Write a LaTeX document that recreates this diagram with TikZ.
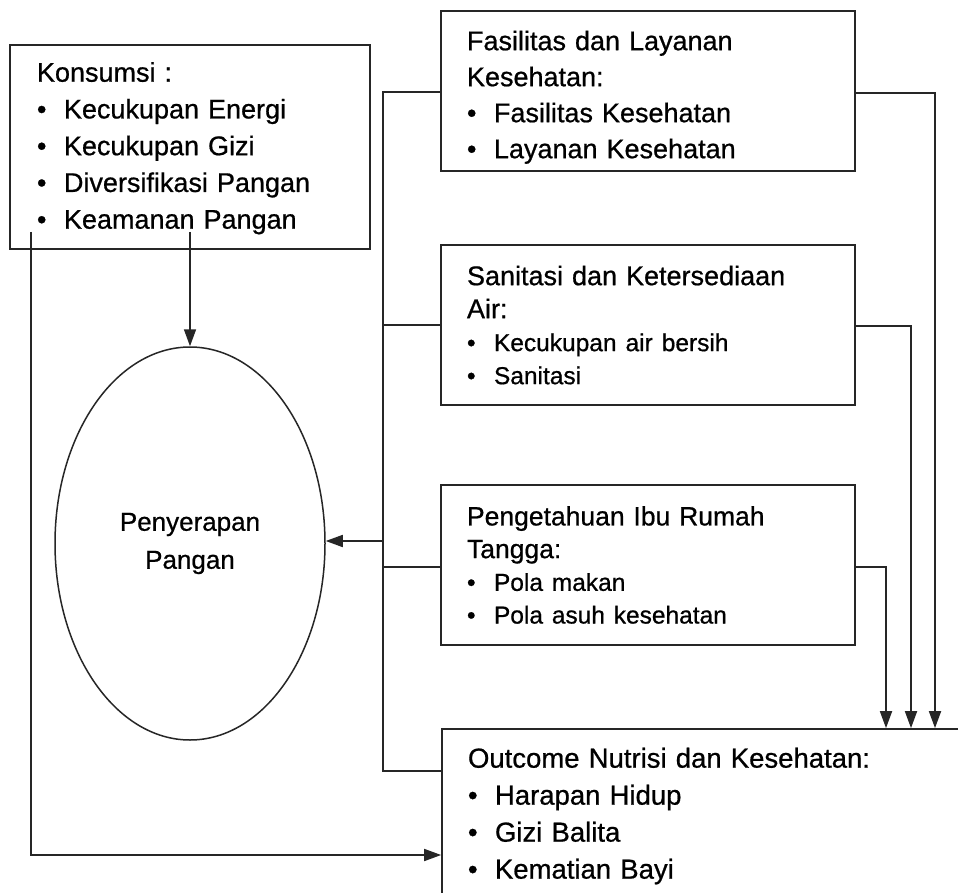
\documentclass[tikz,border=0pt]{standalone}
\usepackage{fontspec}
\setmainfont[FakeBold=0.7]{Liberation Sans}
\usetikzlibrary{arrows.meta,shapes.geometric}
% bulleted entry inside a box
\newcommand{\itm}[1]{\makebox[27pt][l]{\textbullet}#1}

\begin{document}
\begin{tikzpicture}[x=1pt,y=-1pt,
  wire/.style={line width=1.7pt, draw=black!85},
  arr/.style={wire, -{Triangle[length=17pt,width=12pt]}},
  box/.style={draw=black!85, line width=1.7pt, rectangle, inner sep=0pt, align=left},
]
\useasboundingbox (0,0) rectangle (958,893);
\fill[white] (0,0) rectangle (958,893);

% boxes
\node[box, minimum width=360pt, minimum height=204pt, text width=306pt,
      font=\fontsize{27}{36.75}\selectfont] (kons) at (190,147)
  {\rule{0pt}{22pt}Konsumsi :\\
   \itm{Kecukupan Energi}\\
   \itm{Kecukupan Gizi}\\
   \itm{Diversifikasi Pangan}\\
   \itm{Keamanan Pangan}};

\node[box, minimum width=414pt, minimum height=160pt, text width=362pt,
      font=\fontsize{27}{36}\selectfont] (fas) at (648,91)
  {\rule{0pt}{32pt}Fasilitas dan Layanan\\
   Kesehatan:\\
   \itm{Fasilitas Kesehatan}\\
   \itm{Layanan Kesehatan}};

\node[box, minimum width=414pt, minimum height=160pt, text width=362pt,
      font=\fontsize{27}{33}\selectfont] (san) at (648,325)
  {Sanitasi dan Ketersediaan\\
   Air:\\
   {\fontsize{24.5}{33}\selectfont\itm{Kecukupan air bersih}}\\
   {\fontsize{24.5}{33}\selectfont\itm{Sanitasi}}};

\node[box, minimum width=414pt, minimum height=160pt, text width=362pt,
      font=\fontsize{26.5}{32.7}\selectfont] (know) at (648,565)
  {Pengetahuan Ibu Rumah\\
   Tangga:\\
   {\fontsize{24.5}{32.7}\selectfont\itm{Pola makan}}\\
   {\fontsize{24.5}{32.7}\selectfont\itm{Pola asuh kesehatan}}};

\node[box, minimum width=658pt, minimum height=166pt, text width=606pt,
      font=\fontsize{27.5}{37}\selectfont] (outc) at (771,812)
  {\rule{0pt}{28pt}Outcome Nutrisi dan Kesehatan:\\
   \itm{Harapan Hidup}\\
   \itm{Gizi Balita}\\
   \itm{Kematian Bayi}};

\node[draw=black!85, line width=1.5pt, ellipse, minimum width=270pt,
      minimum height=393pt, inner sep=0pt, align=center,
      font=\fontsize{26}{38}\selectfont] (absorb) at (190,543.5)
  {Penyerapan\\Pangan};

% trunk on the left of the right-hand boxes
\coordinate (t1) at (383,92);
\coordinate (t2) at (383,325);
\coordinate (t3) at (383,567);
\coordinate (t4) at (383,771);
\coordinate (ta) at (383,541);
\draw[wire] (fas.west |- t1) -- (t1) -- (t4) -- (outc.west |- t4);
\draw[wire] (san.west |- t2) -- (t2);
\draw[wire] (know.west |- t3) -- (t3);
\draw[arr] (ta) -- (ta -| absorb.east);

% feeds from the right into the outcome box
\coordinate (r1) at (935,93);
\coordinate (r2) at (911,326);
\coordinate (r3) at (886,567);
\draw[arr] (fas.east |- r1) -- (r1) -- (r1 |- outc.north);
\draw[arr] (san.east |- r2) -- (r2) -- (r2 |- outc.north);
\draw[arr] (know.east |- r3) -- (r3) -- (r3 |- outc.north);

% links leaving the consumption box
\coordinate (k1) at (31,232);
\coordinate (k2) at (31,855);
\coordinate (k3) at (190,232);
\draw[arr] (k1) -- (k2) -- (k2 -| outc.west);
\draw[arr] (k3) -- (absorb.north);
\end{tikzpicture}
\end{document}
